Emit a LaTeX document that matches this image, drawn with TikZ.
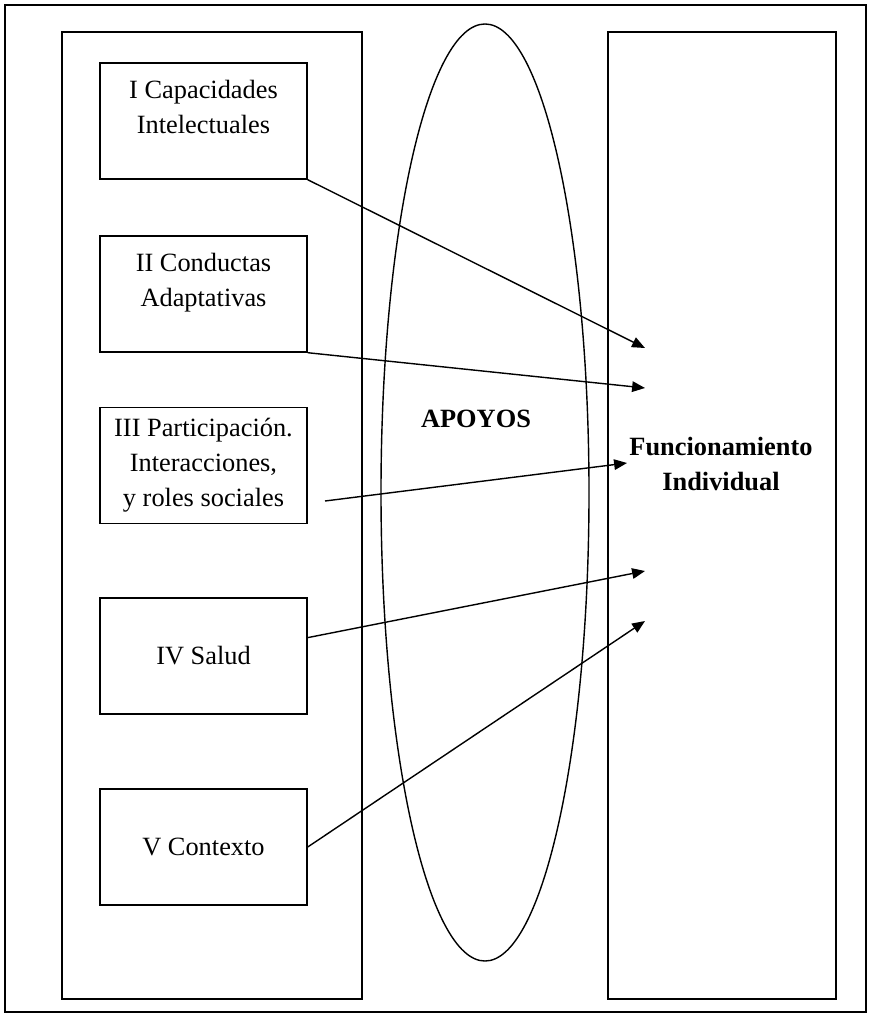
\documentclass[tikz,border=0pt]{standalone}
\usepackage{fontspec}
\setmainfont{Liberation Serif}
\usepackage{tikz}
\usetikzlibrary{shapes.geometric, arrows.meta, positioning}

\begin{document}
\begin{tikzpicture}[
  x=0.03cm, y=-0.03cm,
  every node/.style={font=\fontsize{22.5}{30}\selectfont},
  panel/.style={rectangle, draw, line width=1.2pt, minimum width=9cm, minimum height=29.01cm, inner sep=0pt},
  dim/.style={rectangle, draw, line width=1.2pt, minimum width=6.21cm, minimum height=3.48cm, align=center, inner sep=0pt},
  oval/.style={ellipse, draw, line width=1.2pt, minimum width=6.24cm, minimum height=28.11cm, inner sep=0pt},
  arrow/.style={-{Triangle[length=11pt, width=9pt]}, line width=1.2pt}
]
\useasboundingbox (0,0) rectangle (868,1015);

\node (frame) [rectangle, draw, line width=1.2pt, minimum width=25.83cm, minimum height=30.21cm] at (435.5,508.5) {};
\node (left) [panel] at (212,515.5) {};
\node (right) [panel, minimum width=6.84cm] at (722,515.5) {};
\node (sup) [oval] at (485,492.5) {};

\node (i) [dim] at (203.5,121) {I Capacidades\\Intelectuales\\[-15pt] \strut};
\node (ii) [dim] at (203.5,294) {II Conductas\\Adaptativas\\[-15pt] \strut};
\node (iii) [dim] at (203.5,465.5) {III Participación.\\Interacciones,\\y roles sociales};
\node (iv) [dim] at (203.5,656) {IV Salud};
\node (v) [dim] at (203.5,847) {V Contexto};

\node (apoyos) at (476,419) {\textbf{APOYOS}};
\node (func) [align=center] at (721,464) {\textbf{Funcionamiento}\\\textbf{Individual}};

\coordinate (from3) at (325,501);
\coordinate (to1) at (645,348);
\coordinate (to2) at (645,388);
\coordinate (to3) at (627,463);
\coordinate (to4) at (645,571);
\coordinate (to5) at (645,621);

\draw [arrow] (i.south east) -- (to1);
\draw [arrow] (ii.south east) -- (to2);
\draw [arrow] (from3) -- (to3);
\draw [arrow] (iv.10) -- (to4);
\draw [arrow] (v.east) -- (to5);

\end{tikzpicture}
\end{document}
